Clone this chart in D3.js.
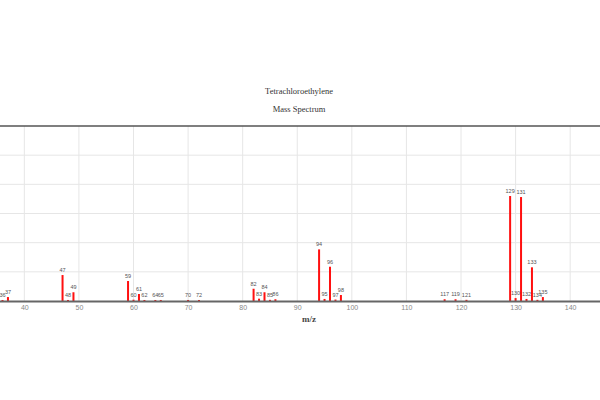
<!DOCTYPE html>
<html>
<head>
<meta charset="utf-8">
<script src="https://cdn.jsdelivr.net/npm/d3@7/dist/d3.min.js"></script>
<style>
  html, body { margin: 0; padding: 0; background: #fff; overflow: hidden; }
  svg { display: block; }
</style>
</head>
<body>
<svg id="chart" width="600" height="400"></svg>
<script>
// Data: m/z and relative intensity
const mz =        [35,  36,  37,  47,   48,  49,  59,   60,  61,  62,  64,  65,  70,  72,  82,  83,  84,  85,  86,  94,   95,  96,   97,  98,  117, 119, 121, 129,  130, 131,  132, 133,  134, 135];
const intensity = [0.7, 0.7, 2.7, 17.8, 0.7, 6.0, 13.7, 0.9, 4.8, 0.7, 0.7, 0.7, 0.7, 0.7, 8.4, 1.6, 6.0, 0.8, 1.2, 35.4, 1.4, 23.5, 1.0, 4.1, 1.2, 1.2, 0.8, 72.0, 2.0, 71.3, 1.4, 23.1, 0.8, 2.7];
const xTicks = [40, 50, 60, 70, 80, 90, 100, 110, 120, 130, 140];
const yTicks = [0, 20, 40, 60, 80, 100, 120];
const title = "Tetrachloroethylene";
const subtitle = "Mass Spectrum";
const xLabel = "m/z";

(function () {
const svg = d3.select("#chart");
const plotTop = 126, plotBottom = 301;
const x = d3.scaleLinear().domain([0, 180]).range([-194, 788.5]);
const y = d3.scaleLinear().domain([0, 120]).range([plotBottom, plotTop]);

// gridlines
svg.append("g").selectAll("line").data(xTicks).join("line")
  .attr("x1", d => x(d)).attr("x2", d => x(d))
  .attr("y1", plotTop).attr("y2", plotBottom)
  .attr("stroke", "#e6e6e6").attr("stroke-width", 1);
svg.append("g").selectAll("line").data(yTicks.slice(1, -1)).join("line")
  .attr("x1", x(0)).attr("x2", x(180))
  .attr("y1", d => y(d)).attr("y2", d => y(d))
  .attr("stroke", "#e6e6e6").attr("stroke-width", 1);

// top border
svg.append("line")
  .attr("x1", x(0)).attr("x2", x(180))
  .attr("y1", plotTop).attr("y2", plotTop)
  .attr("stroke", "#555").attr("stroke-width", 1.5);

// bars
const data = mz.map((m, i) => ({ m, v: intensity[i] }));
svg.append("g").selectAll("rect").data(data).join("rect")
  .attr("x", d => x(d.m) - 1)
  .attr("width", 2)
  .attr("y", d => y(d.v))
  .attr("height", d => plotBottom - y(d.v))
  .attr("fill", "#ff1010");

// peak labels
svg.append("g").selectAll("text").data(data).join("text")
  .attr("x", d => x(d.m))
  .attr("y", d => y(d.v) - 3)
  .attr("text-anchor", "middle")
  .attr("font-family", "Liberation Sans, Arial, sans-serif")
  .attr("font-size", 5.5)
  .attr("fill", "#555")
  .text(d => d.m);

// x axis
const xAxis = d3.axisBottom(x).tickValues(xTicks).tickSize(0).tickPadding(4);
const gx = svg.append("g").attr("transform", `translate(0,${plotBottom})`).call(xAxis);
gx.select(".domain").attr("stroke", "#666").attr("stroke-width", 2);
gx.selectAll("text")
  .attr("font-family", "Liberation Sans, Arial, sans-serif")
  .attr("font-size", 7)
  .attr("fill", "#888");

// titles
svg.append("text").attr("x", 299).attr("y", 94)
  .attr("text-anchor", "middle")
  .attr("font-family", "Liberation Serif, Times New Roman, serif")
  .attr("font-size", 8.5).attr("fill", "#333")
  .text(title);
svg.append("text").attr("x", 299).attr("y", 111.5)
  .attr("text-anchor", "middle")
  .attr("font-family", "Liberation Serif, Times New Roman, serif")
  .attr("font-size", 8.5).attr("fill", "#333")
  .text(subtitle);
svg.append("text").attr("x", 309).attr("y", 322)
  .attr("text-anchor", "middle")
  .attr("font-family", "Liberation Serif, Times New Roman, serif")
  .attr("font-size", 9).attr("font-weight", "bold").attr("fill", "#444")
  .text(xLabel);
})();
</script>
</body>
</html>
